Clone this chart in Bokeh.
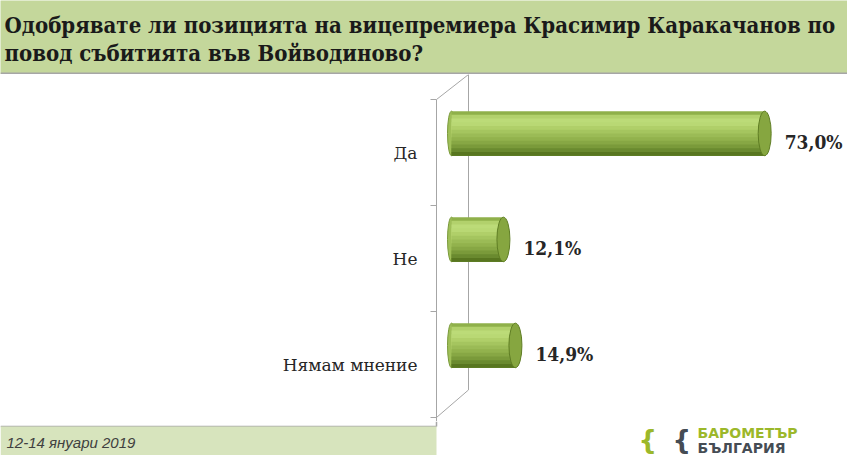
from bokeh.plotting import figure
from bokeh.models import ColumnDataSource, Range1d, FixedTicker, Label, BoxAnnotation
from bokeh.layouts import column
from bokeh.transform import dodge
from bokeh.core.properties import value
from bokeh.embed import file_html
from bokeh.resources import INLINE

# ---------------- data ----------------
title_lines = ["Одобрявате ли позицията на вицепремиера Красимир Каракачанов по",
               "повод събитията във Войводиново?"]
categories = ["Да", "Не", "Нямам мнение"]
values = [73.0, 12.1, 14.9]
date_text = "12-14 януари 2019"
logo_lines = ["БАРОМЕТЪР", "БЪЛГАРИЯ"]

# ---------------- layout constants ----------------
W = 847
HEAD_H, MAIN_H, FOOT_H = 74, 347, 34
HEAD_BG = "#c4d79b"
FOOT_BG = "#d7e4bd"
GRAY = "#a6a6a6"
TXT = "#262626"

ypos = [len(categories) - 1 - i for i in range(len(categories))]
labels = [f"{v:.1f}".replace(".", ",") + "%" for v in values]
src = ColumnDataSource(dict(cat=categories, y=ypos, value=values, label=labels))


def blank(h, bg):
    f = figure(width=W, height=h, x_range=Range1d(0, W), y_range=Range1d(0, h),
               output_backend="svg", toolbar_location=None,
               x_axis_location=None, y_axis_location=None, min_border=0)
    f.grid.visible = False
    f.outline_line_color = None
    f.background_fill_color = bg
    f.border_fill_color = bg
    f.frame_align = False
    return f


# ---------------- header ----------------
head = blank(HEAD_H, HEAD_BG)
for txt, yb in zip(title_lines, [HEAD_H - 24, HEAD_H - 52]):
    head.add_layout(Label(x=4, y=yb, text=txt,
                          text_font="DejaVu Serif Condensed", text_font_style="bold",
                          text_font_size="22px", text_color="#1a1a1a",
                          text_baseline="alphabetic"))
head.add_layout(BoxAnnotation(left=0, right=W, bottom=0, top=2,
                              fill_color=GRAY, fill_alpha=1, line_color=None))

# ---------------- main chart ----------------
PX_PER_UNIT = 4.29
X0 = -3.5
LEFT = 436
FRAME_W = W - LEFT
SPACING = 106
y_end = 2 + 78 / SPACING
y_start = y_end - MAIN_H / SPACING
main = figure(width=W, height=MAIN_H,
              x_range=Range1d(X0, X0 + FRAME_W / PX_PER_UNIT),
              y_range=Range1d(y_start, y_end),
              output_backend="svg", toolbar_location=None, x_axis_location=None,
              min_border_left=LEFT, min_border_right=0, min_border_top=0, min_border_bottom=0)
main.frame_align = False
main.grid.visible = False
main.outline_line_color = None
main.background_fill_color = "white"
main.border_fill_color = "white"

ax = main.yaxis[0]
ax.ticker = FixedTicker(ticks=ypos, minor_ticks=[-0.5, 0.5, 1.5, 2.5])
ax.major_label_overrides = {y: c for y, c in zip(ypos, categories)}
ax.bounds = (y_start, 2.5)
ax.axis_line_color = GRAY
ax.major_tick_line_color = None
ax.major_tick_out = 0
ax.major_tick_in = 0
ax.minor_tick_line_color = GRAY
ax.minor_tick_out = 6
ax.minor_tick_in = 0
ax.major_label_standoff = 13
ax.major_label_text_font = "DejaVu Serif"
ax.major_label_text_font_size = "17px"
ax.major_label_text_color = TXT

# 3D wall edges
WALL_X = 3.96
WALL_BOT = -0.24
main.segment(x0=[X0, WALL_X, X0], y0=[2.5, WALL_BOT, -0.5],
             x1=[WALL_X, WALL_X, WALL_X], y1=[y_end, y_end, WALL_BOT],
             line_color=GRAY, line_width=1)

# cylinder bars
BAR_H = 0.42
BAR_OFF = 0.18
shades = ["#8fb04a", "#b2d16c", "#bcdb78", "#b9d874", "#b0cf69", "#a5c55f",
          "#9bbb56", "#92b24d", "#87a744", "#7a9a3a", "#6a8a2f", "#587620"]
n = len(shades)
main.ellipse(x=0, y=dodge("y", BAR_OFF), width=8, height=BAR_H,
             width_units="screen", height_units="data",
             fill_color="#9fbf58", line_color="#7a9a3a", source=src)
bar_bottom = BAR_OFF - BAR_H / 2
for k, col in enumerate(shades):
    top_k = BAR_OFF + BAR_H / 2 - k * BAR_H / n
    main.hbar(y=dodge("y", (top_k + bar_bottom) / 2), left=0, right="value",
              height=top_k - bar_bottom, fill_color=col, line_color=None, source=src)
main.ellipse(x="value", y=dodge("y", BAR_OFF), width=13, height=BAR_H,
             width_units="screen", height_units="data",
             fill_color="#86a640", line_color="#5f7d24", line_width=1, source=src)

main.text(x="value", y=dodge("y", 0.10), text="label", x_offset=20,
          text_align="left", text_baseline="middle",
          text_font=value("DejaVu Serif Condensed"), text_font_style="bold",
          text_font_size="19px", text_color=TXT, source=src)

# ---------------- footer ----------------
foot = blank(FOOT_H, "white")
BAND_TOP = FOOT_H - 5
foot.add_layout(BoxAnnotation(left=0, right=LEFT, bottom=0, top=BAND_TOP,
                              fill_color=FOOT_BG, fill_alpha=1, line_color=None))
foot.segment(x0=[0, LEFT], y0=[BAND_TOP, FOOT_H], x1=[LEFT, LEFT], y1=[BAND_TOP, BAND_TOP],
             line_color=GRAY, line_width=1.5)
foot.add_layout(Label(x=6, y=13, text=date_text, text_font="Liberation Sans",
                      text_font_style="italic", text_font_size="15px",
                      text_color="#404040", text_baseline="middle"))
foot.add_layout(Label(x=638, y=16, text="{", text_font="DejaVu Sans", text_font_style="bold",
                      text_font_size="26px", text_color="#9cb82a", text_baseline="middle"))
foot.add_layout(Label(x=672, y=16, text="{", text_font="DejaVu Sans", text_font_style="bold",
                      text_font_size="26px", text_color="#454c54", text_baseline="middle"))
foot.add_layout(Label(x=697, y=23, text=logo_lines[0], text_font="DejaVu Sans",
                      text_font_style="bold", text_font_size="14px", text_color="#9cb82a",
                      text_baseline="middle"))
foot.add_layout(Label(x=697, y=8, text=logo_lines[1], text_font="DejaVu Sans",
                      text_font_style="bold", text_font_size="14px", text_color="#454c54",
                      text_baseline="middle"))

layout = column(head, main, foot, spacing=0)
open("out.html", "w").write(file_html(layout, INLINE))
